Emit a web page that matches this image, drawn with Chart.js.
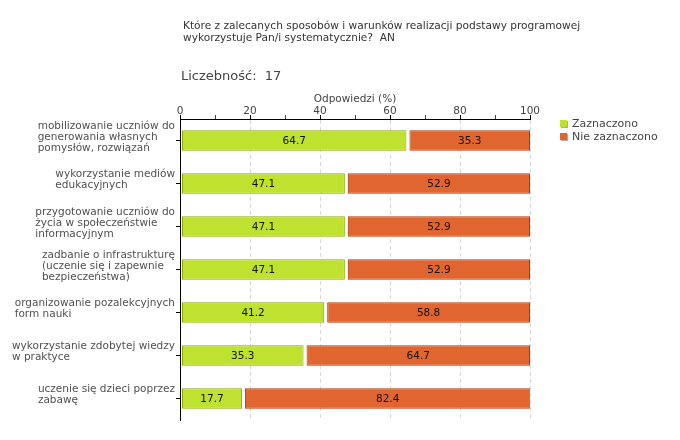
<!DOCTYPE html>
<html>
<head>
<meta charset="utf-8">
<script src="https://cdn.jsdelivr.net/npm/chart.js@4"></script>
<style>
  body { margin: 0; background: #fff; font-family: "DejaVu Sans", Verdana, sans-serif; }
  #wrap { position: relative; width: 680px; height: 440px; }
  #pytanie { position: absolute; left: 183px; top: 19px; font-size: 10.6px; line-height: 12px; color: #333; }
  #liczebnosc { position: absolute; left: 181px; top: 68px; font-size: 13px; color: #444; }
  #legenda { position: absolute; left: 560px; top: 117px; font-size: 11px; color: #444; }
  #legenda div { height: 13px; line-height: 13px; white-space: nowrap; }
  #legenda span { display: inline-block; width: 7px; height: 7px; margin-right: 5px; box-shadow: 1px 1px 0 #aaa; vertical-align: 0px; }
  canvas { position: absolute; left: 0; top: 0; }
</style>
</head>
<body>
<div id="wrap">
  <canvas id="wykres" width="680" height="440"></canvas>
  <div id="pytanie">Które z zalecanych sposobów i warunków realizacji podstawy programowej<br>wykorzystuje Pan/i systematycznie?&nbsp; AN</div>
  <div id="liczebnosc">Liczebność:&nbsp; 17</div>
  <div id="legenda">
    <div><span style="background:#bee22f"></span>Zaznaczono</div>
    <div><span style="background:#e0652f"></span>Nie zaznaczono</div>
  </div>
</div>
<script>
// dane z wykresu
const kategorie = [
  ["mobilizowanie uczniów do", "generowania własnych", "pomysłów, rozwiązań"],
  ["wykorzystanie mediów", "edukacyjnych"],
  ["przygotowanie uczniów do", "życia w społeczeństwie", "informacyjnym"],
  ["zadbanie o infrastrukturę", "(uczenie się i zapewnie", "bezpieczeństwa)"],
  ["organizowanie pozalekcyjnych", "form nauki"],
  ["wykorzystanie zdobytej wiedzy", "w praktyce"],
  ["uczenie się dzieci poprzez", "zabawę"]
]
const zaznaczono = [64.7, 47.1, 47.1, 47.1, 41.2, 35.3, 17.7]
const nieZaznaczono = [35.3, 52.9, 52.9, 52.9, 58.8, 64.7, 82.4]
const osX = [0, 20, 40, 60, 80, 100]

const czcionka = '"DejaVu Sans", Verdana, sans-serif'

// mala przerwa przed kazdym odcinkiem slupka
const przerwa = {
  id: 'przerwa',
  afterDatasetsUpdate(chart) {
    chart.data.datasets.forEach((ds, i) => {
      chart.getDatasetMeta(i).data.forEach(el => { el.base += (i === 0 ? 1.5 : 3) })
    })
  }
}

// wartosci na slupkach
const etykiety = {
  id: 'etykiety',
  afterDatasetsDraw(chart) {
    const c = chart.ctx
    c.save()
    c.font = '10.5px ' + czcionka
    c.fillStyle = '#111'
    c.textAlign = 'center'
    c.textBaseline = 'middle'
    chart.data.datasets.forEach((ds, i) => {
      chart.getDatasetMeta(i).data.forEach((el, j) => {
        c.fillText(ds.data[j].toFixed(1), (el.x + el.base) / 2, el.y + 1)
      })
    })
    c.restore()
  }
}

// opisy kategorii - linie wyrownane do lewej, blok do prawej
const opisy = {
  id: 'opisy',
  afterDraw(chart) {
    const c = chart.ctx
    const y = chart.scales.y
    c.save()
    c.font = '10.5px ' + czcionka
    c.fillStyle = '#505050'
    c.textBaseline = 'middle'
    kategorie.forEach((linie, i) => {
      const szer = Math.max(...linie.map(l => c.measureText(l).width))
      const x0 = y.right - 5 - szer
      const yc = y.getPixelForTick(i)
      const lh = 10.8
      linie.forEach((l, k) => {
        c.fillText(l, x0, yc + (k - (linie.length - 1) / 2) * lh - 3.5)
      })
    })
    c.restore()
  }
}

const ctx = document.getElementById('wykres')

new Chart(ctx, {
  type: 'bar',
  data: {
    labels: kategorie,
    datasets: [{
      label: 'Zaznaczono',
      data: zaznaczono,
      backgroundColor: '#bee22f',
      borderColor: '#8aaa00',
      borderWidth: 1,
      borderSkipped: false
    }, {
      label: 'Nie zaznaczono',
      data: nieZaznaczono,
      backgroundColor: '#e0652f',
      borderColor: '#b83a00',
      borderWidth: 1,
      borderSkipped: false
    }]
  },
  options: {
    indexAxis: 'y',
    responsive: false,
    animation: false,
    layout: { padding: { top: 93, right: 150, bottom: 20, left: 0 } },
    plugins: { legend: { display: false }, tooltip: { enabled: false } },
    datasets: { bar: { categoryPercentage: 1, barPercentage: 0.48 } },
    scales: {
      x: {
        position: 'top',
        stacked: true,
        min: 0,
        max: 100,
        afterFit: s => { s.height = 26 },
        title: { display: true, text: 'Odpowiedzi (%)', color: '#444', font: { family: czcionka, size: 10.5 }, padding: 0 },
        ticks: {
          stepSize: 10,
          autoSkip: false,
          padding: -3,
          color: '#444',
          font: { family: czcionka, size: 10.5 },
          callback: v => osX.includes(v) ? v : ''
        },
        grid: {
          color: c => osX.includes(c.tick.value) ? '#d8d8d8' : 'rgba(0,0,0,0)',
          tickColor: c => osX.includes(c.tick.value) ? '#000' : '#e00000',
          tickLength: 4,
          tickBorderDash: []
        },
        border: { display: true, color: '#000', width: 1, dash: [4, 3] }
      },
      y: {
        stacked: true,
        afterFit: s => { s.width = 180 },
        ticks: { display: false },
        grid: { drawOnChartArea: false, offset: false, tickLength: 4, color: '#000' },
        border: { display: true, color: '#000', width: 1 }
      }
    }
  },
  plugins: [przerwa, etykiety, opisy]
})
</script>
</body>
</html>
